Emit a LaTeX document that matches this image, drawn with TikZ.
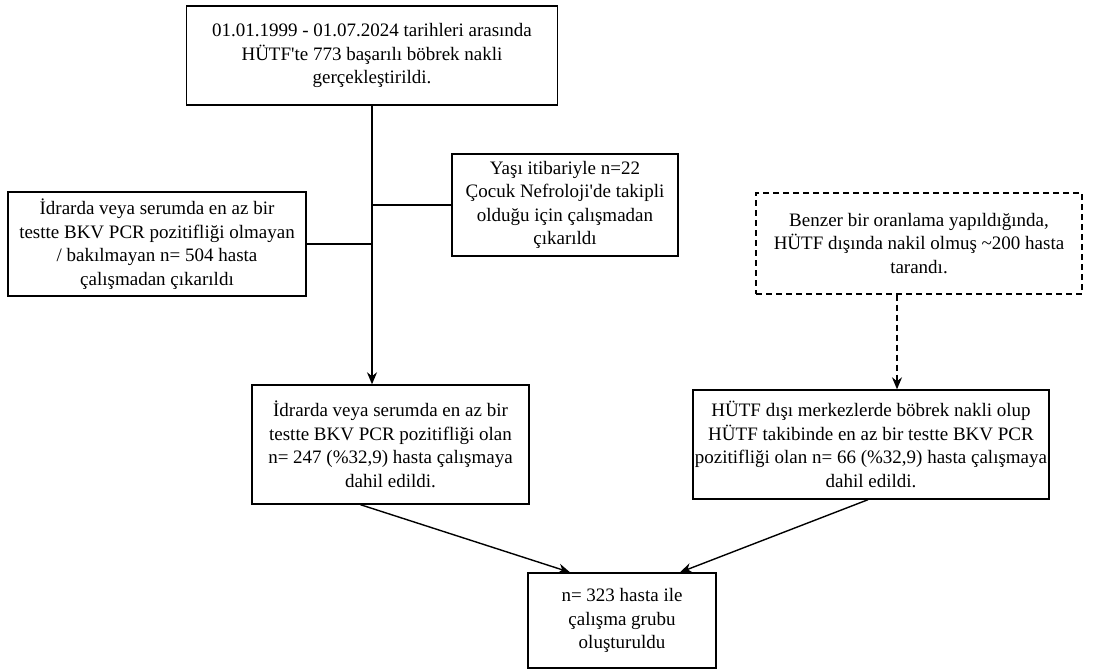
\documentclass[tikz,border=0pt]{standalone}
\usepackage{fontspec}
\setmainfont{Liberation Serif}[Ligatures=TeXOff]
\usetikzlibrary{arrows.meta}
\begin{document}
\begin{tikzpicture}[x=1pt,y=-1pt,
  box/.style={draw, line width=1.4pt, align=center, inner sep=2pt,
    font=\fontsize{19}{23.5}\selectfont},
  dashbox/.style={box, dash pattern=on 6pt off 4pt},
  link/.style={line width=1.4pt},
  arrow/.style={link, -{Stealth[length=12pt,width=10pt]}}]
\useasboundingbox (0,0) rectangle (1101,672);
\fill[white] (0,0) rectangle (1101,672);

% boxes
\node[box, minimum width=371pt, minimum height=99pt] (top) at (372,55.5)
  {01.01.1999 - 01.07.2024 tarihleri arasında\\HÜTF'te 773 başarılı böbrek nakli\\gerçekleştirildi.};
\node[box, minimum width=226pt, minimum height=102pt] (age) at (565,205)
  {Yaşı itibariyle n=22\\Çocuk Nefroloji'de takipli\\olduğu için çalışmadan\\çıkarıldı};
\node[box, minimum width=298pt, minimum height=104pt] (neg) at (157,244)
  {İdrarda veya serumda en az bir\\testte BKV PCR pozitifliği olmayan\\/ bakılmayan n= 504 hasta\\çalışmadan çıkarıldı};
\node[dashbox, minimum width=326pt, minimum height=101pt] (scan) at (919,243.5)
  {Benzer bir oranlama yapıldığında,\\HÜTF dışında nakil olmuş \textasciitilde200 hasta\\tarandı.};
\node[box, minimum width=277pt, minimum height=119pt] (pos) at (390.5,444.5)
  {İdrarda veya serumda en az bir\\testte BKV PCR pozitifliği olan\\n= 247 (\%32,9) hasta çalışmaya\\dahil edildi.};
\node[box, minimum width=350pt, minimum height=109pt] (ext) at (871,444.5)
  {HÜTF dışı merkezlerde böbrek nakli olup\\HÜTF takibinde en az bir testte BKV PCR\\pozitifliği olan n= 66 (\%32,9) hasta çalışmaya\\dahil edildi.};
\node[box, minimum width=188pt, minimum height=95pt] (fin) at (622,620.5)
  {n= 323 hasta ile\\çalışma grubu\\oluşturuldu};

% trunk with side branches
\coordinate (trunkTop) at (top.south);
\coordinate (trunkEnd) at (trunkTop |- pos.north);
\coordinate (jAge) at (trunkTop |- age.west);
\coordinate (jNeg) at (trunkTop |- neg.east);
\draw[arrow] (trunkTop) -- (trunkEnd);
\draw[link] (jAge) -- (age.west);
\draw[link] (jNeg) -- (neg.east);

% external centre branch
\coordinate (scanOut) at ([xshift=-22pt]scan.south);
\draw[arrow, dash pattern=on 6pt off 4pt] (scanOut) -- (scanOut |- ext.north);

% merge into the study group
\coordinate (posOut) at ([xshift=-30pt]pos.south);
\coordinate (finL) at ([xshift=-52pt]fin.north);
\coordinate (finR) at ([xshift=58pt]fin.north);
\draw[arrow] (posOut) -- (finL);
\draw[arrow] ([xshift=-3pt]ext.south) -- (finR);
\end{tikzpicture}
\end{document}
